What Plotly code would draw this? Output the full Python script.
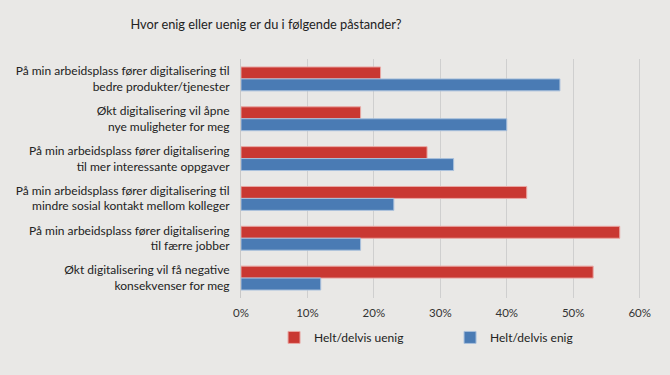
import plotly.graph_objects as go

categories = [
    "På min arbeidsplass fører digitalisering til<br>bedre produkter/tjenester",
    "Økt digitalisering vil åpne<br>nye muligheter for meg",
    "På min arbeidsplass fører digitalisering<br>til mer interessante oppgaver",
    "På min arbeidsplass fører digitalisering til<br>mindre sosial kontakt mellom kolleger",
    "På min arbeidsplass fører digitalisering<br>til færre jobber",
    "Økt digitalisering vil få negative<br>konsekvenser for meg",
]
uenig = [21, 18, 28, 43, 57, 53]
enig = [48, 40, 32, 23, 18, 12]
tick_vals = [0, 10, 20, 30, 40, 50, 60]
tick_text = ["0%", "10%", "20%", "30%", "40%", "50%", "60%"]

font_family = "Lato, Open Sans, sans-serif"
bg = "#e9e8e6"

fig = go.Figure()
fig.add_trace(go.Bar(
    y=categories, x=uenig, orientation="h", name="Helt/delvis uenig",
    marker=dict(color="#c93832", line=dict(color="#e9a7a3", width=1)),
))
fig.add_trace(go.Bar(
    y=categories, x=enig, orientation="h", name="Helt/delvis enig",
    marker=dict(color="#4a7bb4", line=dict(color="#a9c0dc", width=1)),
))

fig.update_layout(
    width=670, height=375,
    paper_bgcolor=bg, plot_bgcolor=bg,
    margin=dict(l=241, r=27, t=59, b=77),
    barmode="group", bargap=0.4, bargroupgap=0,
    font=dict(family=font_family, size=12, color="#222222"),
    title=dict(text="Hvor enig eller uenig er du i følgende påstander?",
               x=266 / 670, xanchor="center", y=1 - 25 / 375, yanchor="middle",
               font=dict(size=12.8, color="#222222", family=font_family)),
    showlegend=True,
    legend=dict(orientation="h", x=0.52, xanchor="center", y=-0.165, yanchor="middle",
                font=dict(size=12, color="#222222"), entrywidth=131,
                bgcolor="rgba(0,0,0,0)"),
    xaxis=dict(range=[0, 60.5], tickvals=tick_vals, ticktext=tick_text,
               showgrid=True, gridcolor="#cfcfcf", gridwidth=1,
               zeroline=False, showline=False, ticks="", ticklabelstandoff=6,
               tickfont=dict(size=11.5, color="#333333")),
    yaxis=dict(autorange="reversed", showgrid=False, showline=True, automargin=False,
               linecolor="#c8c8c8", linewidth=1, ticks="", ticklabelstandoff=8,
               tickfont=dict(size=12, color="#222222")),
)

fig.write_html(
    "out.html",
    config={"displayModeBar": False},
    post_script="document.body.style.margin='0';document.body.style.overflow='hidden';"
                "document.body.style.background='" + bg + "';",
)
